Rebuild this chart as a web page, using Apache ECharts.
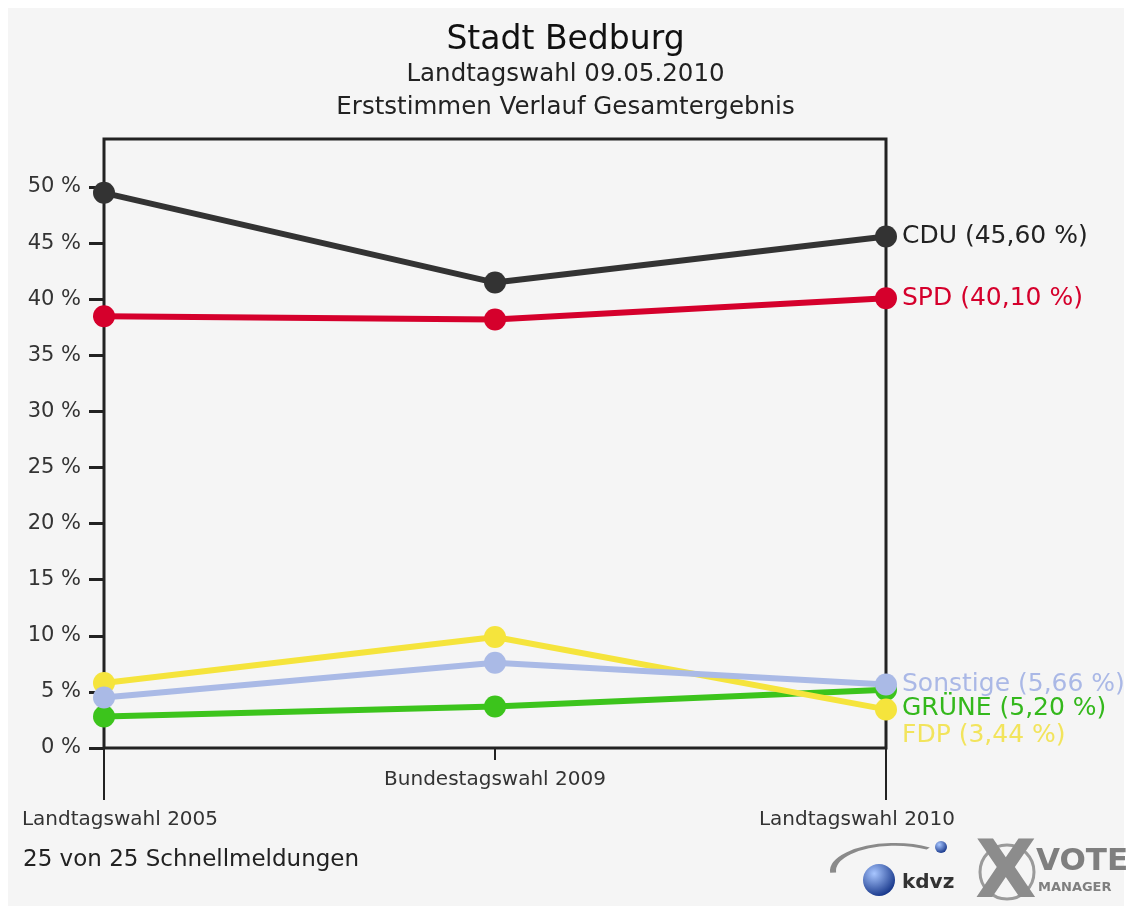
<!DOCTYPE html>
<html>
<head>
<meta charset="utf-8">
<title>Stadt Bedburg</title>
<script src="https://cdn.jsdelivr.net/npm/echarts@6/dist/echarts.min.js"></script>
<style>
  html, body { margin: 0; padding: 0; background: #fff; }
  #chart { width: 1131px; height: 913px; }
</style>
</head>
<body>
<div id="chart"></div>
<script>
// Wahlen (x-Achse)
var categories = ['Landtagswahl 2005', 'Bundestagswahl 2009', 'Landtagswahl 2010']
// Erststimmen in %
var cdu = [49.5, 41.5, 45.60]
var spd = [38.5, 38.2, 40.10]
var gruene = [2.8, 3.7, 5.20]
var fdp = [5.8, 9.9, 3.44]
var sonstige = [4.5, 7.6, 5.66]

var font = 'DejaVu Sans'

function fmt (name) {
  return function (p) {
    return name + ' (' + p.value.toFixed(2).replace('.', ',') + ' %)'
  }
}

function partei (name, data, color, labelColor, dy) {
  return {
    name: name,
    type: 'line',
    xAxisIndex: 0,
    yAxisIndex: 0,
    data: data,
    symbol: 'circle',
    symbolSize: 22,
    showAllSymbol: true,
    lineStyle: { color: color, width: 6 },
    itemStyle: { color: color },
    endLabel: {
      show: true,
      formatter: fmt(name),
      color: labelColor,
      fontFamily: font,
      fontSize: 25,
      distance: 16,
      offset: [0, dy]
    }
  }
}

var chart = echarts.init(document.getElementById('chart'))

var blueBall = { type: 'radial', x: 0.35, y: 0.3, r: 0.8, colorStops: [{ offset: 0, color: '#a8c6ff' }, { offset: 1, color: '#0a2a80' }] }

var option = {
  animation: false,
  backgroundColor: '#ffffff',
  textStyle: { fontFamily: font },
  graphic: [
    { type: 'rect', z: -100, silent: true, shape: { x: 8, y: 8, width: 1116, height: 898 }, style: { fill: '#f5f5f5' } },
    // kdvz logo
    { type: 'arc', silent: true, shape: { cx: 895, cy: 871, r: 62, startAngle: Math.PI * 0.98, endAngle: Math.PI * 1.68 }, scaleY: 0.43, originX: 895, originY: 871, style: { stroke: '#8a8a8a', lineWidth: 6, fill: null } },
    { type: 'circle', silent: true, shape: { cx: 879, cy: 880, r: 16 }, style: { fill: blueBall } },
    { type: 'circle', silent: true, shape: { cx: 941, cy: 847, r: 6 }, style: { fill: blueBall } },
    { type: 'text', silent: true, x: 902, y: 873, style: { text: 'kdvz', fontFamily: font, fontWeight: 'bold', fontSize: 20, fill: '#333' } },
    // VOTE MANAGER logo
    { type: 'circle', silent: true, shape: { cx: 1007, cy: 872, r: 27 }, style: { fill: null, stroke: '#9a9a9a', lineWidth: 3 } },
    { type: 'text', silent: true, x: 975, y: 836, style: { text: 'X', fontFamily: font, fontWeight: 'bold', fontSize: 80, fill: '#8c8c8c' } },
    { type: 'text', silent: true, x: 1036, y: 846, style: { text: 'VOTE', fontFamily: font, fontWeight: 'bold', fontSize: 31, fill: '#7f7f7f' } },
    { type: 'text', silent: true, x: 1038, y: 881, style: { text: 'MANAGER', fontFamily: font, fontWeight: 'bold', fontSize: 13, fill: '#7f7f7f' } }
  ],
  title: [
    { text: 'Stadt Bedburg', left: 'center', top: 19, textStyle: { fontFamily: font, fontSize: 33, fontWeight: 'normal', color: '#111' } },
    { text: 'Landtagswahl 09.05.2010', left: 'center', top: 57, textStyle: { fontFamily: font, fontSize: 24.5, fontWeight: 'normal', color: '#222' } },
    { text: 'Erststimmen Verlauf Gesamtergebnis', left: 'center', top: 90, textStyle: { fontFamily: font, fontSize: 24.5, fontWeight: 'normal', color: '#222' } },
    { text: '25 von 25 Schnellmeldungen', left: 18, top: 844, textStyle: { fontFamily: font, fontSize: 23, fontWeight: 'normal', color: '#222' } }
  ],
  grid: [
    { left: 104, right: 245, top: 139, bottom: 165, show: true, borderColor: '#222', borderWidth: 3, backgroundColor: 'transparent' },
    { left: 104, right: 245, top: 187, bottom: 165 }
  ],
  xAxis: [
    {
      type: 'category',
      gridIndex: 0,
      data: categories,
      boundaryGap: false,
      axisLine: { show: false },
      axisTick: { show: true, interval: function (i) { return i === 1 }, length: 12, lineStyle: { color: '#222', width: 2 } },
      axisLabel: {
        interval: 0,
        margin: 22,
        formatter: function (v, i) {
          if (i === 0) return '{a|' + v + '}'
          if (i === 2) return '{c|' + v + '}'
          return '{b|' + v + '}'
        },
        rich: {
          a: { fontFamily: font, fontSize: 20, color: '#333', padding: [40, 0, 0, 32] },
          b: { fontFamily: font, fontSize: 20, color: '#333' },
          c: { fontFamily: font, fontSize: 20, color: '#333', padding: [40, 58, 0, 0] }
        }
      },
      splitLine: { show: false }
    },
    {
      type: 'category',
      gridIndex: 1,
      data: categories,
      boundaryGap: false,
      axisLine: { show: false },
      axisTick: { show: true, interval: function (i) { return i !== 1 }, length: 52, lineStyle: { color: '#222', width: 2 } },
      axisLabel: { show: false },
      splitLine: { show: false }
    }
  ],
  yAxis: [
    { type: 'value', gridIndex: 0, min: 0, max: 54.3, show: false },
    {
      type: 'value',
      gridIndex: 1,
      min: 0,
      max: 50,
      interval: 5,
      axisLine: { show: false },
      axisTick: { show: true, length: 15, lineStyle: { color: '#222', width: 3 } },
      axisLabel: { margin: 23, formatter: '{value} %', fontFamily: font, fontSize: 21, color: '#333' },
      splitLine: { show: false }
    }
  ],
  series: [
    partei('CDU', cdu, '#333333', '#222222', 0),
    partei('SPD', spd, '#d5002c', '#d5002c', 0),
    partei('GRÜNE', gruene, '#3cc41c', '#34b81c', 19),
    partei('FDP', fdp, '#f5e43c', '#f2e45c', 26),
    partei('Sonstige', sonstige, '#aabae6', '#aab8e6', 0)
  ]
}

chart.setOption(option)
</script>
</body>
</html>
